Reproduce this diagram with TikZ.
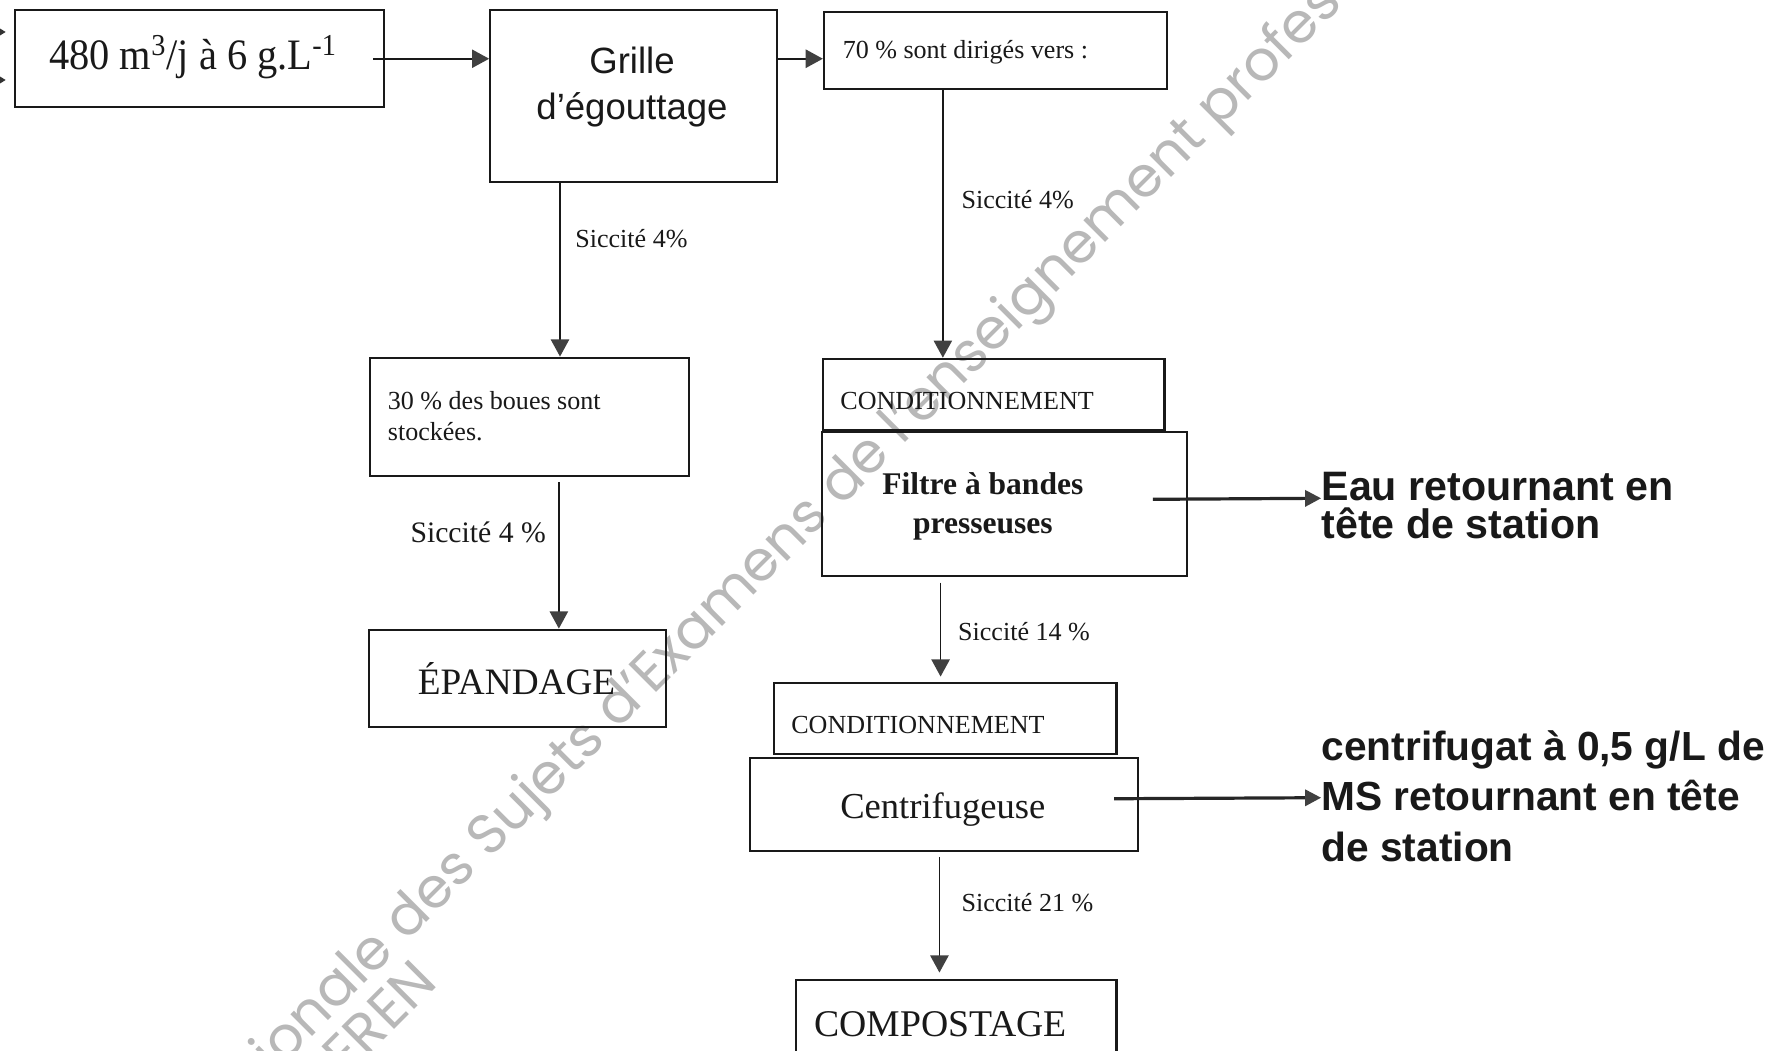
\documentclass[tikz,border=0pt]{standalone}
\usepackage{fontspec}
\setmainfont{Liberation Serif}
\newfontfamily\arialfont{Liberation Sans}
\newfontfamily\wmfont{Poppins}
\usetikzlibrary{arrows.meta,calc}
\tikzset{
  boxnode/.style={draw=black!90, line width=0.9pt, inner sep=0pt, anchor=north west},
  txt/.style={inner sep=0pt, text=black!90},
  arr/.style={draw=black!90, line width=0.7pt, -{Triangle[length=7.5pt,width=8pt,color=black!75]}},
  thickarr/.style={draw=black!85, line width=1.4pt, -{Triangle[length=7pt,width=7pt,color=black!75]}},
  smallarr/.style={draw=black!85, line width=0.6pt, -{Triangle[length=3pt,width=3.5pt,color=black!80]}},
  wm/.style={inner sep=0pt, text=black!28, font=\wmfont\fontsize{24.5}{28}\selectfont, rotate=45, anchor=base west},
  sicc/.style={txt, font=\fontsize{11.4}{13.5}\selectfont},
}
\begin{document}
\begin{tikzpicture}[x=0.5pt, y=-0.5pt]
\useasboundingbox (0,0) rectangle (1568,919);
\clip (0,0) rectangle (1568,919);
\fill[white] (0,0) rectangle (1568,919);

% watermark
\node[wm] (wm1) at (86,1094) {Base Nationale des Sujets d’Examens de l’enseignement professionnel};
\node[wm] (wm2) at (119,1127) {Réseau SCEREN};

% boxes
\node[boxnode, minimum width=161.5pt, minimum height=42.5pt] (A) at (12,8) {};
\node[boxnode, minimum width=125.5pt, minimum height=75pt] (B) at (428,8) {};
\node[boxnode, minimum width=150pt, minimum height=33.5pt] (C) at (720,10) {};
\node[boxnode, minimum width=139.5pt, minimum height=52pt] (D) at (323,312) {};
\node[boxnode, minimum width=130pt, minimum height=42.5pt] (E) at (322,550) {};
\node[boxnode, minimum width=149.5pt, minimum height=31pt] (F) at (719,313) {};
\node[boxnode, minimum width=160pt, minimum height=63pt] (G) at (718,377) {};
\node[boxnode, minimum width=150pt, minimum height=31pt] (H) at (676,597) {};
\node[boxnode, minimum width=170pt, minimum height=41pt] (I) at (655,662) {};
\node[boxnode, minimum width=140pt, minimum height=45pt] (J) at (696,857) {};

% box texts
\node[txt, font=\fontsize{19}{22}\selectfont, xscale=0.93, transform shape] (At) at (169,50) {480 m\textsuperscript{3}/j à 6 g.L\textsuperscript{-1}};
\node[txt, align=center, font=\arialfont\fontsize{16}{20}\selectfont] (Bt) at (553,76) {Grille\\d’égouttage};
\node[txt, anchor=west, font=\fontsize{11.4}{13.5}\selectfont] (Ct) at (737,46) {70 \% sont dirigés vers :};
\node[txt, anchor=west, align=left, font=\fontsize{11.4}{13.5}\selectfont] (Dt) at (339,364) {30 \% des boues sont\\stockées.};
\node[txt, font=\fontsize{16.3}{19}\selectfont] (Et) at (452,594) {ÉPANDAGE};
\node[txt, anchor=west, font=\fontsize{11.4}{13.5}\selectfont] (Ft) at (735,351) {CONDITIONNEMENT};
\node[txt, align=center, font=\bfseries\fontsize{13.8}{17}\selectfont] (Gt) at (860,443) {Filtre à bandes\\presseuses};
\node[txt, anchor=west, font=\fontsize{11.4}{13.5}\selectfont] (Ht) at (692,634) {CONDITIONNEMENT};
\node[txt, font=\fontsize{16}{19}\selectfont] (It) at (825,708) {Centrifugeuse};
\node[txt, anchor=west, font=\fontsize{16.5}{19}\selectfont] (Jt) at (712,896) {COMPOSTAGE};

% side labels
\node[txt, anchor=north west, align=left, font=\arialfont\bfseries\fontsize{18}{16.5}\selectfont] (eau) at (1156,413) {Eau retournant en\\tête de station};
\node[txt, anchor=north west, align=left, font=\arialfont\bfseries\fontsize{17.8}{22}\selectfont] (cent) at (1156,639) {centrifugat à 0,5 g/L de\\MS retournant en tête\\de station};
\coordinate (eauTip) at (1156,436);
\coordinate (centTip) at (1156,698);

% siccité labels
\node[sicc, anchor=west] (s1) at (503,209) {Siccité 4\%};
\node[sicc, anchor=west] (s2) at (841,175) {Siccité 4\%};
\node[txt, anchor=east, font=\fontsize{13}{15}\selectfont] (s3) at (478,466) {Siccité 4 \%};
\node[sicc, anchor=west] (s4) at (838,553) {Siccité 14 \%};
\node[sicc, anchor=west] (s5) at (841,790) {Siccité 21 \%};

% connectors
\draw[arr] ($(A.east)+(-10,0)$) -- (A.east -| B.west);
\draw[arr] (A.east -| B.east) -- (A.east -| C.west);
\draw[arr] ($(B.south west)+(62,0)$) -- ($(D.north west)+(167,0)$);
\draw[arr] ($(D.south west)+(166,4)$) -- ($(E.north west)+(167,0)$);
\draw[arr] ($(C.south west)+(105,0)$) -- ($(F.north west)+(106,0)$);
\draw[arr] ($(G.south west)+(105,5)$) -- ($(H.north west)+(147,-5)$);
\draw[arr] ($(I.south west)+(167,4)$) -- ($(J.north west)+(126,-6)$);
\draw[thickarr] ($(G.east)+(-31,-4)$) -- (eauTip);
\draw[thickarr] ($(I.east)+(-22,-5)$) -- (centTip);

% arrow tips entering from the left edge
\coordinate (in1) at (-30,28);
\coordinate (in1t) at (5,28);
\coordinate (in2) at (-30,70);
\coordinate (in2t) at (5,70);
\draw[smallarr] (in1) -- (in1t);
\draw[smallarr] (in2) -- (in2t);
\end{tikzpicture}
\end{document}
